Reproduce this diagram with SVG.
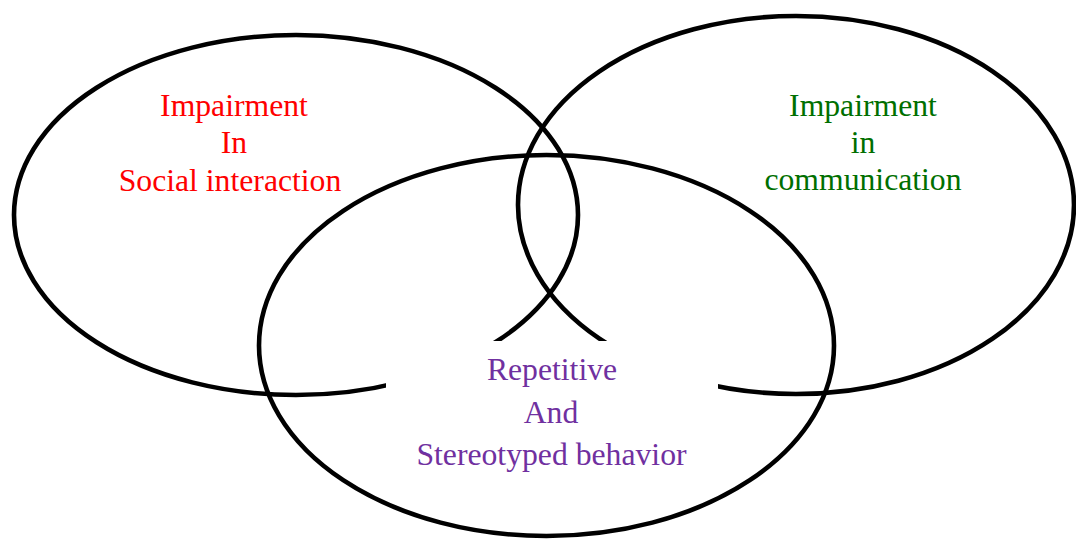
<svg xmlns="http://www.w3.org/2000/svg" width="1076" height="539" viewBox="0 0 1076 539">
<style>
.ring{fill:none;stroke:#000;stroke-width:4.6}
.lbl{font-family:"Liberation Serif","Times New Roman",serif;font-size:31.7px;text-anchor:middle}
.red{fill:#FF0000}
.green{fill:#006F00}
.purple{fill:#7030A0}
</style>
<rect width="1076" height="539" fill="#fff"/>
<g id="node-social">
<ellipse class="ring" cx="296" cy="215" rx="282" ry="180"/>
<text class="lbl red" x="234" y="116">Impairment</text>
<text class="lbl red" x="234" y="153">In</text>
<text class="lbl red" x="230" y="191">Social interaction</text>
</g>
<g id="node-communication">
<ellipse class="ring" cx="796" cy="205" rx="278" ry="189"/>
<text class="lbl green" x="863" y="116">Impairment</text>
<text class="lbl green" x="863" y="153">in</text>
<text class="lbl green" x="863" y="190">communication</text>
</g>
<g id="node-repetitive">
<ellipse class="ring" cx="546.5" cy="345.5" rx="287.5" ry="190.5"/>
<rect x="386" y="341" width="332" height="140" fill="#fff"/>
<text class="lbl purple" x="552" y="380">Repetitive</text>
<text class="lbl purple" x="551" y="423">And</text>
<text class="lbl purple" x="551.5" y="465">Stereotyped behavior</text>
</g>
<g id="connectors"/>
</svg>
